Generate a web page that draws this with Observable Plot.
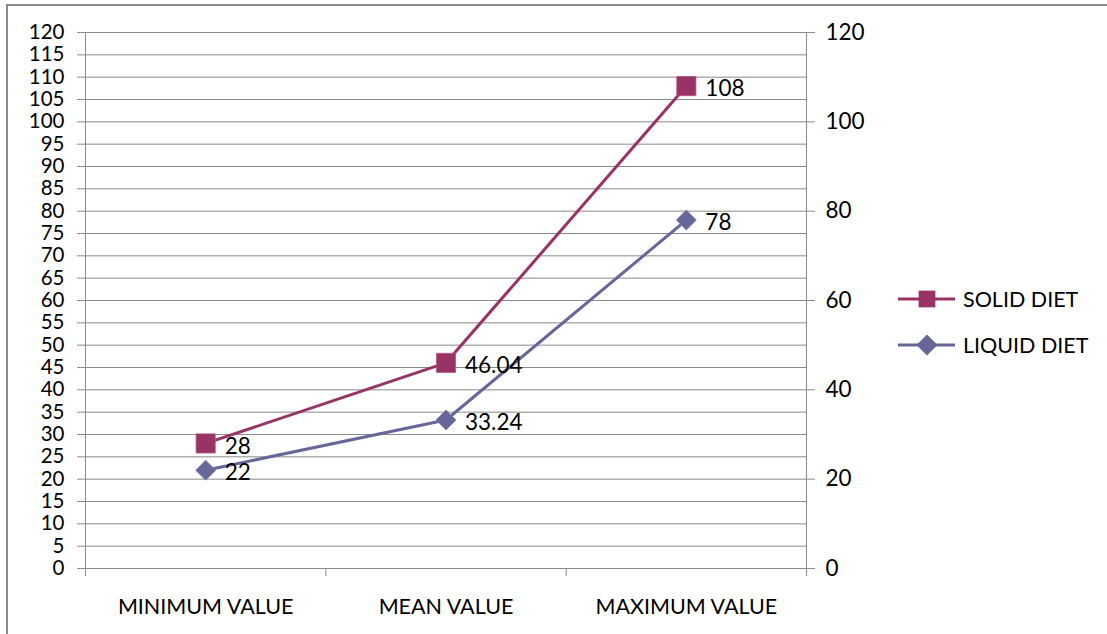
<!DOCTYPE html>
<html>
<head>
<meta charset="utf-8">
<script src="https://cdn.jsdelivr.net/npm/d3@7"></script>
<script src="https://cdn.jsdelivr.net/npm/@observablehq/plot@0.6"></script>
<style>
  html, body { margin: 0; padding: 0; background: #fff; }
  #wrap { position: relative; width: 1107px; height: 634px; overflow: hidden; font-family: Lato, "Open Sans", sans-serif; }
  #border { position: absolute; left: 6px; top: 4px; width: 1110px; height: 640px; border-left: 2px solid #8a8a8a; border-top: 2px solid #8a8a8a; box-sizing: border-box; }
  #chart { position: absolute; left: 0; top: 0; }
  .leg { position: absolute; left: 896px; display: flex; align-items: center; font-size: 21.5px; color: #000; }
  .leg svg { margin-right: 5px; }
</style>
</head>
<body>
<div id="wrap">
  <div id="border"></div>
  <div id="chart"></div>
  <div id="legend"></div>
</div>
<script>
const categories = ["MINIMUM VALUE", "MEAN VALUE", "MAXIMUM VALUE"];
const solidDiet = [28, 46.04, 108];
const liquidDiet = [22, 33.24, 78];
const seriesNames = ["SOLID DIET", "LIQUID DIET"];
const leftTicks = [0,5,10,15,20,25,30,35,40,45,50,55,60,65,70,75,80,85,90,95,100,105,110,115,120];
const rightTicks = [0,20,40,60,80,100,120];
const bandEdges = [-0.5, 0.5, 1.5, 2.5];

const solidColor = "#993366";
const liquidColor = "#666699";
const axisGray = "#8a8a8a";

const solid = categories.map((c, i) => ({i, c, v: solidDiet[i]}));
const liquid = categories.map((c, i) => ({i, c, v: liquidDiet[i]}));

const plot = Plot.plot({
  width: 1107,
  height: 634,
  marginLeft: 85,
  marginRight: 301,
  marginTop: 32,
  marginBottom: 66,
  style: { fontFamily: "Lato, 'Open Sans', sans-serif", background: "transparent", overflow: "visible" },
  x: { type: "linear", domain: [-0.5, 2.5], axis: null },
  y: { domain: [0, 120], axis: null },
  marks: [
    Plot.gridY(leftTicks, { stroke: axisGray, strokeOpacity: 1 }),
    Plot.frame({ stroke: axisGray }),
    Plot.axisY({ anchor: "left", ticks: leftTicks, tickSize: 8, tickPadding: 13, fontSize: 20.5, stroke: axisGray, color: "#000", label: null, tickFormat: d => String(d) }),
    Plot.axisY({ anchor: "right", ticks: rightTicks, tickSize: 8, tickPadding: 11, fontSize: 22.5, stroke: axisGray, color: "#000", label: null, tickFormat: d => String(d) }),
    Plot.axisX({ ticks: bandEdges, tickSize: 8, tickFormat: () => "", stroke: axisGray, label: null }),
    Plot.axisX({ ticks: [0, 1, 2], tickSize: 0, tickPadding: 30, fontSize: 21.5, color: "#000", tickFormat: i => categories[i], label: null }),
    Plot.line(solid, { x: "i", y: "v", stroke: solidColor, strokeWidth: 3 }),
    Plot.line(liquid, { x: "i", y: "v", stroke: liquidColor, strokeWidth: 3 }),
    Plot.dot(solid, { x: "i", y: "v", symbol: "square", r: 10.8, fill: solidColor, stroke: "#b0557f", strokeWidth: 0.8 }),
    Plot.dot(liquid, { x: "i", y: "v", symbol: "diamond2", r: 9.0, fill: liquidColor, stroke: "#7d7db0", strokeWidth: 0.8 }),
    Plot.text(solid, { x: "i", y: "v", text: d => String(d.v), dx: 19, dy: 3, textAnchor: "start", fontSize: 22.5, fill: "#000" }),
    Plot.text(liquid, { x: "i", y: "v", text: d => String(d.v), dx: 19, dy: 3, textAnchor: "start", fontSize: 22.5, fill: "#000" })
  ]
});
document.getElementById("chart").appendChild(plot);

// Legend
const legend = document.getElementById("legend");
const legendRows = [
  { name: seriesNames[0], color: solidColor, sym: d3.symbolSquare, size: 280, top: 286 },
  { name: seriesNames[1], color: liquidColor, sym: d3.symbolDiamond2, size: 280, top: 332 }
];
legendRows.forEach(r => {
  const row = document.createElement("div");
  row.className = "leg";
  row.style.top = r.top + "px";
  const svg = d3.create("svg").attr("width", 62).attr("height", 22);
  svg.append("line").attr("x1", 2).attr("x2", 59).attr("y1", 11).attr("y2", 11).attr("stroke", r.color).attr("stroke-width", 3);
  svg.append("path").attr("d", d3.symbol(r.sym, r.size)()).attr("transform", "translate(31,11)").attr("fill", r.color);
  row.appendChild(svg.node());
  const t = document.createElement("span");
  t.textContent = r.name;
  row.appendChild(t);
  legend.appendChild(row);
});
</script>
</body>
</html>
